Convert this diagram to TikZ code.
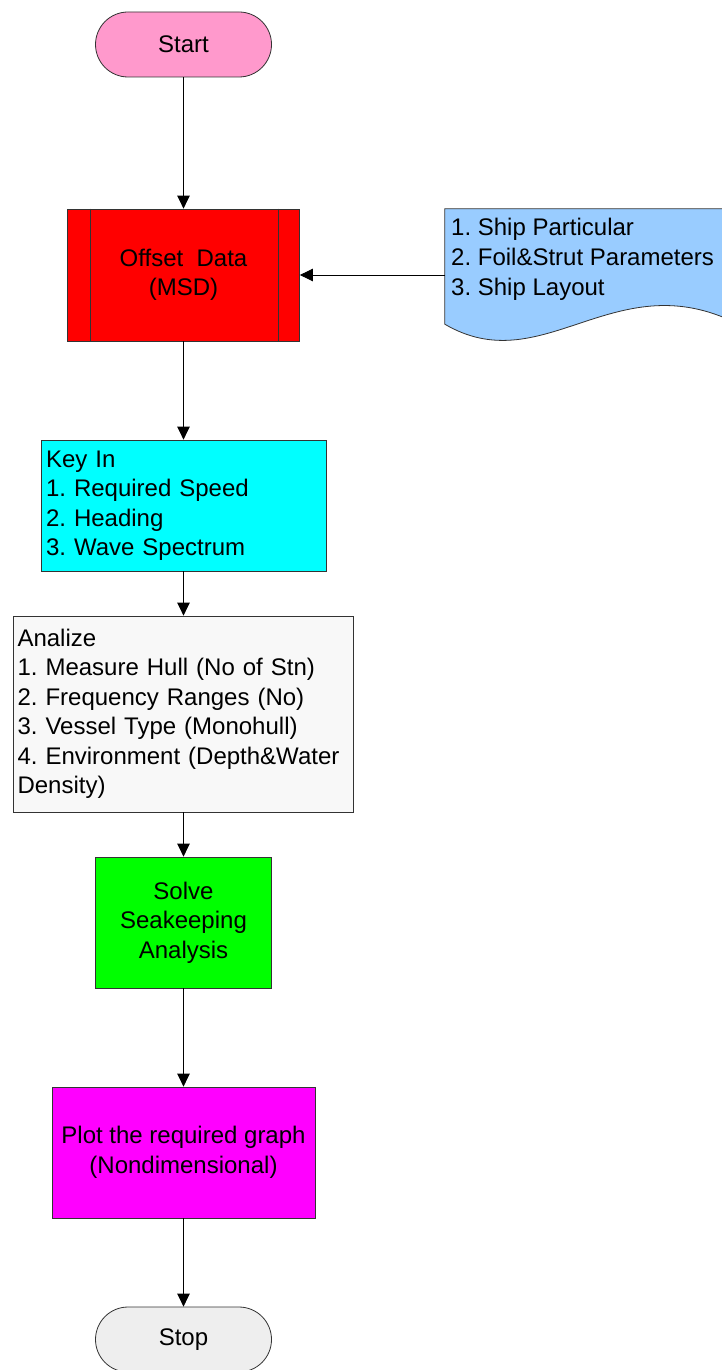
\documentclass[tikz,border=0pt]{standalone}
\usepackage{fontspec}
\setmainfont{Liberation Sans}
\usetikzlibrary{arrows.meta,calc}
\frenchspacing

\definecolor{startpink}{HTML}{FF99CC}
\definecolor{offsetred}{HTML}{FF0000}
\definecolor{docblue}{HTML}{99CCFF}
\definecolor{keycyan}{HTML}{00FFFF}
\definecolor{anagray}{HTML}{F8F8F8}
\definecolor{solvegreen}{HTML}{00FF00}
\definecolor{plotmagenta}{HTML}{FF00FF}
\definecolor{stopgray}{HTML}{EEEEEE}
\definecolor{edge}{HTML}{333333}

\tikzset{
  base/.style={draw=edge, line width=0.8pt, inner sep=0pt,
    font=\fontsize{24}{29.5}\selectfont},
  terminal/.style={base, minimum width=176pt, minimum height=65pt,
    rounded corners=32.5pt},
  process/.style={base, align=center},
  listbox/.style={base, align=left, inner xsep=5pt},
  arr/.style={draw=black, line width=0.8pt,
    -{Triangle[length=13pt,width=12.5pt]}}
}

\begin{document}
\begin{tikzpicture}[x=1pt, y=-1pt]
\useasboundingbox (0,0) rectangle (721,1370);

% terminals
\node[terminal, fill=startpink] (start) at (183.5,44.5) {Start};
\node[terminal, fill=stopgray] (stop) at (183.5,1339.5) {Stop};

% predefined process with side bars
\node[process, fill=offsetred, minimum width=232pt, minimum height=132pt]
  (offset) at (183.5,275) {Offset\ \ Data\\(MSD)};
\draw[draw=edge, line width=0.8pt]
  ([xshift=23pt]offset.north west) -- ([xshift=23pt]offset.south west)
  ([xshift=-22pt]offset.north east) -- ([xshift=-22pt]offset.south east);

% document input with wavy bottom edge
\node[minimum width=280pt, minimum height=132pt, inner sep=0pt]
  (doc) at (585,275) {};
\draw[draw=edge, line width=0.8pt, fill=docblue]
  (doc.south west) ++(0,-17) coordinate (docBL)
  (doc.north west) -- (doc.north east) -- (725,318)
  .. controls (610,270) and (540,380) .. (docBL) -- cycle;
\node[anchor=west, align=left, inner sep=0pt,
  font=\fontsize{24}{30}\selectfont]
  (docText) at (451,259) {1. Ship Particular\\2. Foil\&Strut Parameters\\3. Ship Layout};

% input and analysis lists
\node[listbox, fill=keycyan, minimum width=285pt, minimum height=131pt,
  text width=275pt] (keyin) at (183.5,505.5)
  {Key In\\1. Required Speed\\2. Heading\\3. Wave Spectrum};
\node[listbox, fill=anagray, minimum width=340pt, minimum height=196pt,
  text width=332pt, inner xsep=4pt] (analize) at (183.5,714)
  {Analize\\1. Measure Hull (No of Stn)\\2. Frequency Ranges (No)\\3. Vessel Type (Monohull)\\4. Environment (Depth\&Water\\Density)};

% solver and output
\node[process, fill=solvegreen, minimum width=176pt, minimum height=131pt]
  (solve) at (183.5,922.5) {Solve\\Seakeeping\\Analysis};
\node[process, fill=plotmagenta, minimum width=263pt, minimum height=131pt]
  (plot) at (183.5,1152.5) {Plot the required graph\\(Nondimensional)};

% connectors
\draw[arr] (start) -- (offset);
\draw[arr] (doc.west) -- (offset.east);
\draw[arr] (offset) -- (keyin);
\draw[arr] (keyin) -- (analize);
\draw[arr] (analize) -- (solve);
\draw[arr] (solve) -- (plot);
\draw[arr] (plot) -- (stop);
\end{tikzpicture}
\end{document}
